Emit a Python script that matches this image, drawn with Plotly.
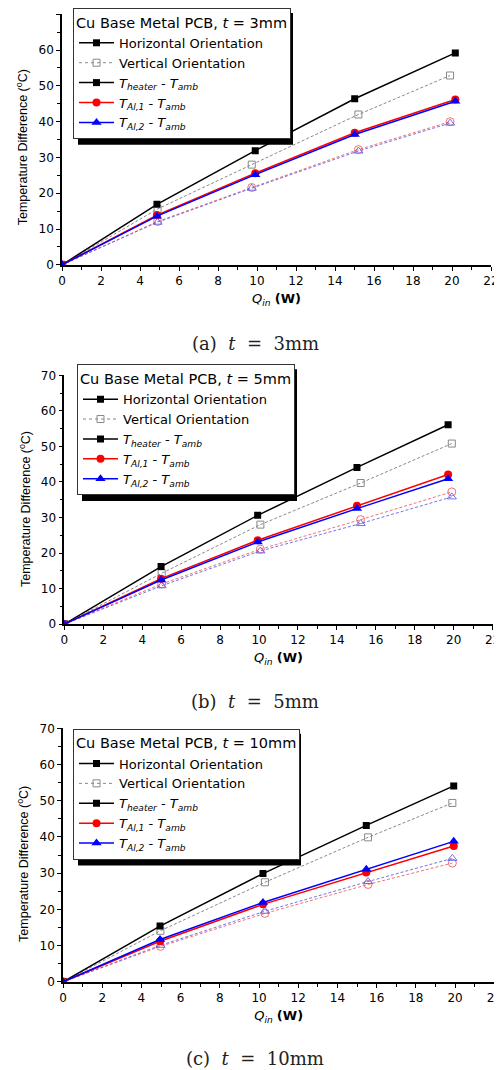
import plotly.graph_objects as go

# page is 502x1070; the html body adds an 8px margin, so the figure is placed at (8, 8)
PAGE_OFF = 8
W, H = 502 - PAGE_OFF, 1070 - PAGE_OFF

# ---------------- data ----------------
# t = 3 mm
q3_h = [0, 4.87, 9.91, 15.01, 20.17]
q3_v = [0, 4.90, 9.73, 15.20, 19.90]
h3_heater = [0, 16.9, 31.9, 46.4, 59.2]
h3_al1 = [0, 13.9, 25.6, 36.9, 46.2]
h3_al2 = [0, 13.6, 25.2, 36.4, 45.7]
v3_heater = [0, 15.6, 28.0, 42.0, 52.9]
v3_al1 = [0, 12.1, 21.6, 32.2, 40.0]
v3_al2 = [0, 11.9, 21.4, 31.8, 39.6]

# t = 5 mm
q5_h = [0, 4.97, 9.93, 15.03, 19.71]
q5_v = [0, 5.00, 10.07, 15.22, 19.90]
h5_heater = [0, 16.2, 30.6, 44.1, 56.1]
h5_al1 = [0, 12.8, 23.6, 33.3, 42.1]
h5_al2 = [0, 12.4, 23.1, 32.5, 40.9]
v5_heater = [0, 14.3, 28.0, 39.7, 50.8]
v5_al1 = [0, 11.3, 21.1, 29.4, 37.2]
v5_al2 = [0, 10.8, 20.6, 28.3, 35.8]

# t = 10 mm
q10_h = [0, 4.95, 10.20, 15.47, 19.93]
q10_v = [0, 4.97, 10.30, 15.56, 19.86]
h10_heater = [0, 15.4, 29.9, 43.2, 54.1]
h10_al1 = [0, 11.2, 21.4, 30.2, 37.5]
h10_al2 = [0, 11.7, 21.9, 31.1, 38.8]
v10_heater = [0, 14.1, 27.5, 39.9, 49.4]
v10_al1 = [0, 9.8, 18.9, 26.9, 32.8]
v10_al2 = [0, 10.1, 19.5, 27.7, 34.1]

thickness_labels = ["3mm", "5mm", "10mm"]
caption_letters = ["a", "b", "c"]
y_title = "Temperature Difference (<sup>o</sup>C)"
x_title = "<i>Q</i><sub><i>in</i></sub> <b>(W)</b>"

x_range = [0, 22]
y_range = [0, 70]

panels = [
    dict(qh=q3_h, qv=q3_v, hh=h3_heater, h1=h3_al1, h2=h3_al2, vh=v3_heater, v1=v3_al1, v2=v3_al2),
    dict(qh=q5_h, qv=q5_v, hh=h5_heater, h1=h5_al1, h2=h5_al2, vh=v5_heater, v1=v5_al1, v2=v5_al2),
    dict(qh=q10_h, qv=q10_v, hh=h10_heater, h1=h10_al1, h2=h10_al2, vh=v10_heater, v1=v10_al1, v2=v10_al2),
]

# ---------------- layout geometry (page pixels) ----------------
plot_boxes = [  # x0, x1, ytop, ybottom
    (62, 491, 12.3, 263.3),
    (64.3, 492.7, 374, 623.3),
    (63, 494.3, 727.7, 981.7),
]
legend_pos = [(73, 6), (77, 363), (73, 728)]
legend_size = [(216, 133), (216, 133), (224, 133)]
y_title_pos = [(21.5, 146), (25, 508), (23.5, 864)]
caption_y = [342, 701, 1058]


def px(x):
    return (x - PAGE_OFF) / W


def py(y):
    return 1 - (y - PAGE_OFF) / H


fig = go.Figure()

BLACK = "black"
GRAY = "#888888"
RED = "#ff0000"
BLUE = "#0000ff"
LRED = "rgba(235,90,90,0.85)"
LBLUE = "rgba(90,90,235,0.85)"

for i, p in enumerate(panels):
    n = "" if i == 0 else str(i + 1)
    xa, ya = "x" + n, "y" + n
    lg = "legend" + n

    # legend-only entries
    fig.add_trace(go.Scatter(x=[None], y=[None], mode="lines+markers", name="Horizontal Orientation",
                             line=dict(color=BLACK, width=1.5), marker=dict(symbol="square", size=7, color=BLACK),
                             xaxis=xa, yaxis=ya, legend=lg))
    fig.add_trace(go.Scatter(x=[None], y=[None], mode="lines+markers", name="Vertical Orientation",
                             line=dict(color=GRAY, width=1, dash="dot"),
                             marker=dict(symbol="square-open", size=7, color=GRAY),
                             xaxis=xa, yaxis=ya, legend=lg))

    # vertical orientation (dashed, open symbols)
    fig.add_trace(go.Scatter(x=p["qv"], y=p["vh"], mode="lines+markers", showlegend=False,
                             line=dict(color=GRAY, width=1, dash="3px,2px"),
                             marker=dict(symbol="square-open", size=7, color=GRAY, line=dict(width=1)),
                             xaxis=xa, yaxis=ya, legend=lg))
    fig.add_trace(go.Scatter(x=p["qv"], y=p["v1"], mode="lines+markers", showlegend=False,
                             line=dict(color=LRED, width=1, dash="3px,2px"),
                             marker=dict(symbol="circle-open", size=8, color=LRED, line=dict(width=1)),
                             xaxis=xa, yaxis=ya, legend=lg))
    fig.add_trace(go.Scatter(x=p["qv"], y=p["v2"], mode="lines+markers", showlegend=False,
                             line=dict(color=LBLUE, width=1, dash="3px,2px"),
                             marker=dict(symbol="triangle-up-open", size=8, color=LBLUE, line=dict(width=1)),
                             xaxis=xa, yaxis=ya, legend=lg))

    # horizontal orientation (solid, filled symbols)
    fig.add_trace(go.Scatter(x=p["qh"], y=p["hh"], mode="lines+markers",
                             name="<i>T</i><sub><i>heater</i></sub> - <i>T</i><sub><i>amb</i></sub>",
                             line=dict(color=BLACK, width=1.5),
                             marker=dict(symbol="square", size=7, color=BLACK),
                             xaxis=xa, yaxis=ya, legend=lg))
    fig.add_trace(go.Scatter(x=p["qh"], y=p["h1"], mode="lines+markers",
                             name="<i>T</i><sub><i>Al,1</i></sub> - <i>T</i><sub><i>amb</i></sub>",
                             line=dict(color=RED, width=1.5),
                             marker=dict(symbol="circle", size=8, color=RED),
                             xaxis=xa, yaxis=ya, legend=lg))
    fig.add_trace(go.Scatter(x=p["qh"], y=p["h2"], mode="lines+markers",
                             name="<i>T</i><sub><i>Al,2</i></sub> - <i>T</i><sub><i>amb</i></sub>",
                             line=dict(color=BLUE, width=1.5),
                             marker=dict(symbol="triangle-up", size=9, color=BLUE),
                             xaxis=xa, yaxis=ya, legend=lg))

layout = dict(
    width=W, height=H,
    margin=dict(l=0, r=0, t=0, b=0),
    paper_bgcolor="white", plot_bgcolor="white",
    font=dict(family="DejaVu Sans", color="black"),
    shapes=[], annotations=[],
)

tick_font = dict(family="DejaVu Sans", size=12, color="black")

for i in range(3):
    n = "" if i == 0 else str(i + 1)
    x0, x1, yt, yb = plot_boxes[i]
    layout["xaxis" + n] = dict(
        domain=[px(x0), px(x1)], anchor="y" + n, range=x_range, dtick=2, tick0=0,
        showline=True, linecolor="black", linewidth=1.5, mirror=False,
        ticks="outside", ticklen=4, tickwidth=1.2, tickcolor="black",
        minor=dict(ticks="outside", ticklen=3, dtick=1, tickcolor="black", tickwidth=1),
        showgrid=False, zeroline=False, tickfont=tick_font, automargin=False,
        title=dict(text=x_title, font=dict(family="DejaVu Sans", size=13, color="black"), standoff=7),
    )
    layout["yaxis" + n] = dict(
        domain=[py(yb), py(yt)], anchor="x" + n, range=y_range, dtick=10, tick0=0,
        showline=True, linecolor="black", linewidth=1.5, mirror=False,
        ticks="outside", ticklen=4, tickwidth=1.2, tickcolor="black",
        minor=dict(ticks="outside", ticklen=3, dtick=5, tickcolor="black", tickwidth=1),
        showgrid=False, zeroline=False, tickfont=tick_font, automargin=False,
    )

    # y-axis title (placed slightly below the axis centre, as in the original)
    tx, ty = y_title_pos[i]
    layout["annotations"].append(dict(
        text=y_title, xref="paper", yref="paper", x=px(tx), y=py(ty),
        xanchor="center", yanchor="middle", textangle=-90, showarrow=False,
        font=dict(family="Liberation Sans", size=12.5, color="black"),
    ))

    lx, ly = legend_pos[i]
    layout["legend" + n] = dict(
        x=px(lx), y=py(ly), xref="paper", yref="paper", xanchor="left", yanchor="top",
        bgcolor="white", bordercolor="#333333", borderwidth=1,
        font=dict(family="DejaVu Sans", size=13, color="black"),
        title=dict(text="Cu Base Metal PCB, <i>t</i> = " + thickness_labels[i],
                   font=dict(family="DejaVu Sans", size=14.5, color="black")),
        itemwidth=35, tracegroupgap=0, traceorder="normal",
    )

    # drop shadow of the legend box
    lw, lh = legend_size[i]
    layout["shapes"].append(dict(
        type="rect", xref="paper", yref="paper", layer="above",
        x0=px(lx + 5), x1=px(lx + lw + 4), y0=py(ly + lh + 4), y1=py(ly + 5),
        fillcolor="black", line=dict(width=0),
    ))

    layout["annotations"].append(dict(
        text="(" + caption_letters[i] + ")\u00a0\u00a0<i>t</i>\u00a0\u00a0=\u00a0\u00a0" + thickness_labels[i],
        xref="paper", yref="paper", x=px(255), y=py(caption_y[i]),
        xanchor="center", yanchor="middle", showarrow=False,
        font=dict(family="DejaVu Serif", size=18, color="#222222"),
    ))

fig.update_layout(**layout)
fig.write_html("out.html")
